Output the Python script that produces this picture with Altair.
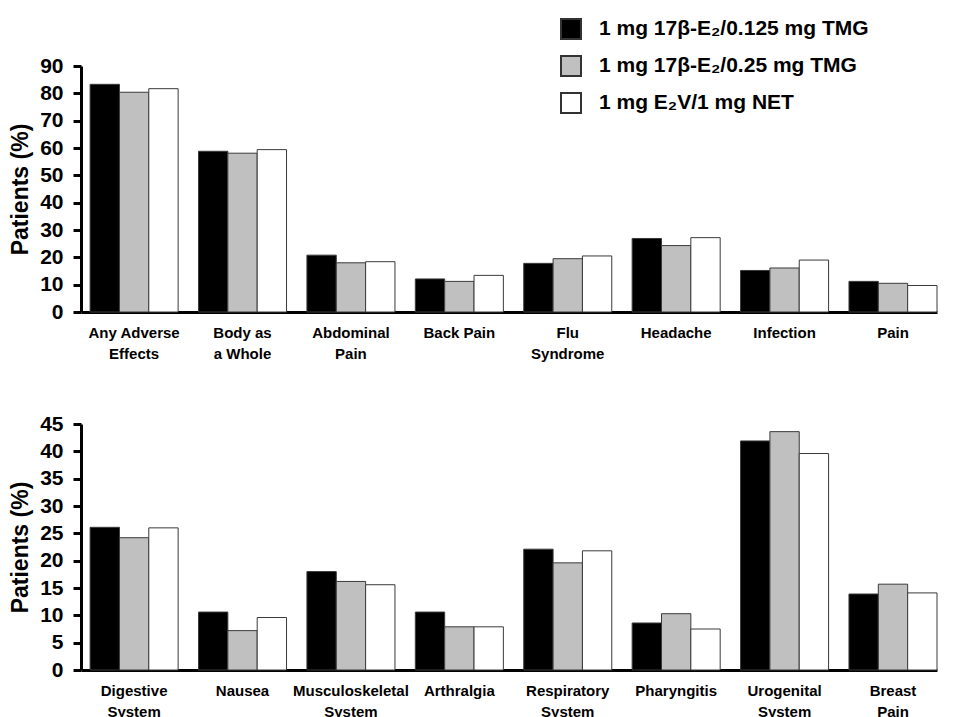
import altair as alt
import pandas as pd

series = ["1 mg 17β-E₂/0.125 mg TMG", "1 mg 17β-E₂/0.25 mg TMG", "1 mg E₂V/1 mg NET"]
colors = ["#000000", "#c0c0c0", "#ffffff"]

top_categories = ["Any Adverse|Effects", "Body as|a Whole", "Abdominal|Pain", "Back Pain",
                  "Flu|Syndrome", "Headache", "Infection", "Pain"]
top_a = [83.3, 58.8, 20.8, 12.1, 17.8, 26.9, 15.2, 11.2]
top_b = [80.4, 58.1, 18.0, 11.2, 19.5, 24.3, 16.1, 10.5]
top_c = [81.7, 59.4, 18.4, 13.4, 20.5, 27.2, 19.0, 9.7]

bottom_categories = ["Digestive|System", "Nausea", "Musculoskeletal|System", "Arthralgia",
                     "Respiratory|System", "Pharyngitis", "Urogenital|System", "Breast|Pain"]
bot_a = [26.1, 10.6, 18.0, 10.6, 22.1, 8.6, 41.9, 13.9]
bot_b = [24.2, 7.2, 16.2, 7.9, 19.6, 10.3, 43.6, 15.7]
bot_c = [26.0, 9.6, 15.6, 7.9, 21.8, 7.5, 39.6, 14.1]


def make_df(cats, a, b, c):
    rows = []
    for vals, s in zip([a, b, c], series):
        for cat, v in zip(cats, vals):
            rows.append({"category": cat, "series": s, "value": v})
    return pd.DataFrame(rows)


df_top = make_df(top_categories, top_a, top_b, top_c)
df_bot = make_df(bottom_categories, bot_a, bot_b, bot_c)

W = 856
H = 246


def panel(df, cats, ymax, ystep, show_legend):
    legend = None
    if show_legend:
        legend = alt.Legend(
            title=None, orient="none", legendX=479, legendY=-48,
            symbolType="square", symbolSize=400, symbolStrokeColor="#333333",
            symbolStrokeWidth=2, labelFont="Liberation Sans", labelFontSize=21,
            labelFontWeight="bold", labelColor="#000000", labelOffset=17,
            rowPadding=9, padding=0, labelLimit=400,
        )
    return alt.Chart(df).mark_bar(stroke="#3a3a3a", strokeWidth=1).encode(
        x=alt.X("category:N", sort=cats,
                scale=alt.Scale(paddingInner=0.188, paddingOuter=0.042, align=1),
                axis=alt.Axis(title=None, labelAngle=0, ticks=False, domainWidth=3,
                              domainColor="#000000",
                              labelExpr="split(datum.label, '|')",
                              labelFont="Liberation Sans", labelFontSize=15,
                              labelFontWeight="bold", labelColor="#000000",
                              labelPadding=13, labelLineHeight=21, labelLimit=200)),
        xOffset=alt.XOffset("series:N", sort=series,
                            scale=alt.Scale(paddingInner=0, paddingOuter=0)),
        y=alt.Y("value:Q",
                scale=alt.Scale(domain=[0, ymax], nice=False),
                axis=alt.Axis(title="Patients (%)", values=list(range(0, ymax + 1, ystep)),
                              grid=False, domainWidth=3, domainColor="#000000",
                              tickWidth=3, tickSize=8, tickColor="#000000",
                              labelFont="Liberation Sans", labelFontSize=21,
                              labelFontWeight="bold", labelColor="#000000",
                              labelPadding=10,
                              titleFont="Liberation Sans", titleFontSize=23,
                              titleFontWeight="bold", titleColor="#000000",
                              titlePadding=7)),
        color=alt.Color("series:N", sort=series,
                        scale=alt.Scale(domain=series, range=colors),
                        legend=legend),
    ).properties(width=W, height=H)


top = panel(df_top, top_categories, 90, 10, True)
bottom = panel(df_bot, bottom_categories, 45, 5, False)

chart = alt.vconcat(top, bottom, spacing=52).resolve_scale(color="independent").properties(
    padding={"top": 10, "left": 1, "right": 0, "bottom": 0}
).configure_view(stroke=None)

chart.save("out.html", embed_options={"renderer": "svg", "actions": False})
